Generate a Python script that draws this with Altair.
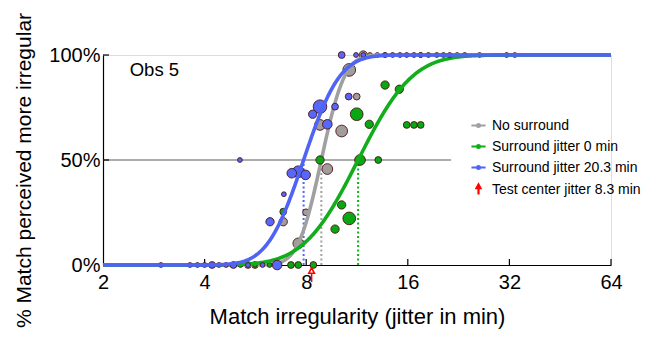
import math
import numpy as np
import pandas as pd
import altair as alt

# ---------------- data ----------------
CONDITIONS = ["No surround", "Surround jitter 0 min", "Surround jitter 20.3 min"]
ARROW_LABEL = "Test center jitter 8.3 min"
TEST_CENTER = 8.3
OBS_LABEL = "Obs 5"

# fitted psychometric functions (threshold in min, spread in octaves)
THRESHOLDS = [8.87, 11.4, 7.86]
SPREADS = [0.18, 0.42, 0.28]

X_TICKS = [2, 4, 8, 16, 32, 64]
Y_TICKS = [0.0, 0.5, 1.0]
MID_LINE_END = 21.5

# observed points: x (jitter, min), y (proportion), n (trials)
GRAY_X = [11.81, 12.36, 13.0, 13.70, 17.47, 22.4, 26.1, 33.2,
          5.38, 5.64,
          10.73, 11.29, 8.79, 10.19, 9.24, 6.84, 7.99, 7.58]
GRAY_Y = [1, 1, 1, 1, 1, 1, 1, 1,
          0, 0,
          0.929, 0.802, 0.667, 0.638, 0.457, 0.206, 0.251, 0.103]
GRAY_N = [3, 1, 1, 1, 1, 1, 1, 1,
          2, 2,
          7, 2, 5, 6, 5, 3, 2, 5]

GREEN_X = [14.43, 18.41, 19.5, 20.4, 23.6, 31.4,
           5.11, 5.64, 6.23, 7.21, 7.58, 8.4,
           8.79, 11.55, 13.08, 6.84, 10.19, 10.73, 9.74, 11.29, 12.3, 13.7, 15.1,
           15.88, 16.69, 17.47]
GREEN_Y = [1, 1, 1, 1, 1, 1,
           0, 0, 0, 0, 0, 0,
           0.5, 0.5, 0.5, 0.254, 0.286, 0.222, 0.171, 0.718, 0.67, 0.857, 0.837,
           0.667, 0.667, 0.667]
GREEN_N = [1, 1, 1, 1, 1, 1,
           1, 1, 1, 2, 2, 2,
           3, 5, 2, 2, 3, 7, 3, 7, 3, 3, 3,
           2, 2, 2]

BLUE_X = [10.19, 11.24, 11.81, 13.70, 15.17, 15.88, 16.69, 17.47, 21.3,
          2.97, 3.62, 3.81, 4.0, 4.21, 4.41, 4.63, 4.87, 5.38, 5.94, 6.56,
          10.69, 8.79, 9.74, 8.36, 9.24, 7.58, 7.25, 7.97, 6.87, 6.25, 5.09]
BLUE_Y = [1, 1, 1, 1, 1, 1, 1, 1, 1,
          0, 0, 0, 0, 0, 0, 0, 0, 0, 0, 0,
          0.802, 0.754, 0.754, 0.718, 0.67, 0.444, 0.437, 0.429, 0.337, 0.206, 0.5]
BLUE_N = [2, 1, 1, 1, 1, 1, 1, 1, 1,
          1, 1, 1, 1, 2, 1, 1, 2, 1, 1, 4,
          2, 8, 2, 3, 4, 6, 4, 4, 1, 3, 1]

POINT_SETS = [(GRAY_X, GRAY_Y, GRAY_N), (GREEN_X, GREEN_Y, GREEN_N), (BLUE_X, BLUE_Y, BLUE_N)]

# ---------------- styles ----------------
CURVE_COLORS = ["#a0a0a0", "#12ad1b", "#4f63f5"]
POINT_COLORS = ["#a29c9c", "#07a812", "#5766fb"]
ARROW_COLOR = "#ff0000"
EDGE = "#4a1414"
FONT = "Liberation Sans"
W, H = 508, 210

LINE_DOT = "M-1,0H1M-0.2,0A0.2,0.2 0 1,0 0.2,0A0.2,0.2 0 1,0 -0.2,0Z"
ARROW = "M0,-0.7L-0.28,-0.18L0.28,-0.18ZM0,-0.18L0,0.7"

xscale = alt.Scale(type="log", base=2, domain=[2, 64], nice=False, zero=False)
yscale = alt.Scale(domain=[0, 1], nice=False, zero=False)

xaxis = alt.Axis(values=X_TICKS, format="d", ticks=False, grid=False, labelFontSize=20,
                 labelFont=FONT, labelColor="black", labelPadding=7, labelFlush=False,
                 labelOverlap=False, domainColor="black", domainWidth=1.2,
                 title="Match irregularity (jitter in min)", titleFont=FONT,
                 titleFontSize=22, titleFontWeight="normal", titleColor="black",
                 titlePadding=14)
yaxis = alt.Axis(values=Y_TICKS, format=".0%", ticks=False, grid=False, labelFontSize=20,
                 labelFont=FONT, labelColor="black", labelPadding=3, labelFlush=False,
                 labelOverlap=False, domainColor="black", domainWidth=1.2,
                 title="% Match perceived more irregular", titleFont=FONT,
                 titleFontSize=21, titleFontWeight="normal", titleColor="black",
                 titleX=-79, titleY=115, titleAngle=270, titleAlign="center",
                 titleBaseline="middle")

layers = []

# axes carrier (invisible)
axis_df = pd.DataFrame({"x": [2, 64], "y": [0, 1]})
layers.append(alt.Chart(axis_df).mark_point(opacity=0).encode(
    x=alt.X("x:Q", scale=xscale, axis=xaxis),
    y=alt.Y("y:Q", scale=yscale, axis=yaxis)))

# 50% reference line
mid_df = pd.DataFrame({"x": [2], "x2": [MID_LINE_END], "y": [0.5]})
layers.append(alt.Chart(mid_df).mark_rule(color="#5a5a5a", strokeWidth=1.2).encode(
    x=alt.X("x:Q", scale=xscale), x2="x2:Q", y=alt.Y("y:Q", scale=yscale)))

# inward ticks
xt_df = pd.DataFrame({"x": X_TICKS[1:]})
layers.append(alt.Chart(xt_df).mark_rule(color="black", strokeWidth=1.2).encode(
    x=alt.X("x:Q", scale=xscale), y=alt.value(H), y2=alt.value(H - 6)))
yt_df = pd.DataFrame({"y": Y_TICKS})
layers.append(alt.Chart(yt_df).mark_rule(color="black", strokeWidth=1.2).encode(
    y=alt.Y("y:Q", scale=yscale), x=alt.value(0), x2=alt.value(6)))

# threshold dotted lines
thr_df = pd.DataFrame({"x": THRESHOLDS, "y": [0.0] * 3, "y2": [0.5] * 3, "cond": CONDITIONS})
for i, c in enumerate(CONDITIONS):
    layers.append(alt.Chart(thr_df[thr_df.cond == c]).mark_rule(
        color=CURVE_COLORS[i], strokeWidth=2, strokeDash=[2, 2.5]).encode(
        x=alt.X("x:Q", scale=xscale), y=alt.Y("y:Q", scale=yscale), y2="y2:Q"))

xs = np.geomspace(2, 64, 400)
for i, c in enumerate(CONDITIONS):
    px, py, pn = POINT_SETS[i]
    pdf = pd.DataFrame({"x": px, "y": py, "n": pn, "cond": c})
    layers.append(alt.Chart(pdf).mark_circle(
        color=POINT_COLORS[i], opacity=1, stroke=EDGE, strokeWidth=0.9).encode(
        x=alt.X("x:Q", scale=xscale), y=alt.Y("y:Q", scale=yscale),
        size=alt.Size("n:Q", scale=alt.Scale(domain=[0, 10], range=[0, 230], zero=True),
                      legend=None)))
    t, s = THRESHOLDS[i], SPREADS[i]
    p = [0.5 * (1 + math.erf((math.log2(v) - math.log2(t)) / (s * math.sqrt(2)))) for v in xs]
    cdf = pd.DataFrame({"x": xs, "y": p})
    layers.append(alt.Chart(cdf).mark_line(color=CURVE_COLORS[i], strokeWidth=3.6).encode(
        x=alt.X("x:Q", scale=xscale), y=alt.Y("y:Q", scale=yscale)))

# obs label
obs_df = pd.DataFrame({"x": [2.4], "y": [0.93], "t": [OBS_LABEL]})
layers.append(alt.Chart(obs_df).mark_text(align="left", baseline="middle", fontSize=18.5,
                                          font=FONT, color="black").encode(
    x=alt.X("x:Q", scale=xscale), y=alt.Y("y:Q", scale=yscale), text="t:N"))

# red arrow + legend
LEG_DOMAIN = CONDITIONS + [ARROW_LABEL]
LEG_COLORS = CURVE_COLORS + [ARROW_COLOR]
LEG_SHAPES = [LINE_DOT] * 3 + [ARROW]
leg = alt.Legend(orient="none", legendX=367, legendY=62, title=None, padding=0,
                 symbolSize=200, symbolStrokeWidth=2.2, labelFontSize=14, labelFont=FONT,
                 labelColor="black", labelOffset=5, rowPadding=5, labelLimit=400)
arrow_df = pd.DataFrame({"x": [TEST_CENTER], "y": [0.0], "cond": [ARROW_LABEL]})
layers.append(alt.Chart(arrow_df).mark_point(
    filled=False, strokeWidth=1.6, size=400, yOffset=10, opacity=1).encode(
    x=alt.X("x:Q", scale=xscale), y=alt.Y("y:Q", scale=yscale),
    color=alt.Color("cond:N", scale=alt.Scale(domain=LEG_DOMAIN, range=LEG_COLORS), legend=leg),
    shape=alt.Shape("cond:N", scale=alt.Scale(domain=LEG_DOMAIN, range=LEG_SHAPES), legend=leg)))

chart = alt.layer(*layers).properties(
    width=W, height=H,
    autosize=alt.AutoSizeParams(type="none"),
    padding={"left": 95, "top": 47, "right": 32, "bottom": 66},
).configure_view(stroke=None).configure(background="white")

chart.save("out.html", embed_options={"renderer": "svg", "actions": False})
